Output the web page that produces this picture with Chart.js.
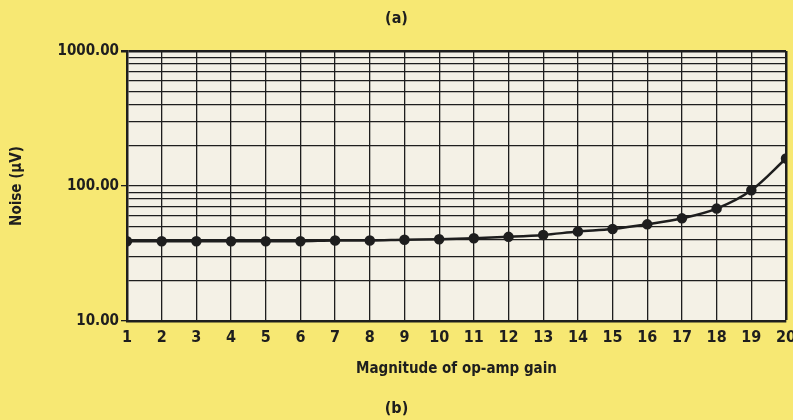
<!DOCTYPE html>
<html>
<head>
<meta charset="utf-8">
<script src="https://cdn.jsdelivr.net/npm/chart.js@4"></script>
<style>
  html, body { margin: 0; padding: 0; background: #f7e873; }
  canvas { display: block; }
</style>
</head>
<body>
<canvas id="myChart" width="793" height="420"></canvas>
<script>
// values
const gains = [1, 2, 3, 4, 5, 6, 7, 8, 9, 10, 11, 12, 13, 14, 15, 16, 17, 18, 19, 20];
const noise = [39, 39, 39, 39, 39, 39, 39.5, 39.5, 40, 40.3, 41, 42, 43.4, 46, 48, 52, 57.6, 68, 93, 160];

// log grid lines, only the decades get a label
const yGridValues = [10, 20, 30, 40, 50, 60, 70, 80, 90, 100, 200, 300, 400, 500, 600, 700, 800, 900, 1000];
const yLabelValues = [10, 100, 1000];

// no narrow font by name here, so ask for the condensed face of DejaVu
const FONT = "'DejaVu Sans Condensed', 'DejaVu Sans', sans-serif";
const WEIGHT = 'bold condensed';
const INK = '#1e1e1e';

// off-white plot paper
const paperPlugin = {
  id: 'paper',
  beforeDraw(chart) {
    const a = chart.chartArea;
    const ctx = chart.ctx;
    ctx.save();
    ctx.fillStyle = '#f4f1e6';
    ctx.fillRect(a.left, a.top, a.right - a.left, a.bottom - a.top);
    ctx.restore();
  }
};

const data = {
  datasets: [{
    label: 'Noise',
    data: gains.map((g, i) => ({ x: g, y: noise[i] })),
    borderColor: INK,
    backgroundColor: INK,
    borderWidth: 2.5,
    pointRadius: 4,
    pointHoverRadius: 4,
    cubicInterpolationMode: 'monotone'
  }]
};

const config = {
  type: 'line',
  data: data,
  options: {
    responsive: false,
    animation: false,
    layout: { padding: 0 },
    plugins: {
      legend: { display: false },
      tooltip: { enabled: false },
      title: {
        display: true,
        text: '(a)',
        color: INK,
        font: { family: FONT, size: 16, weight: WEIGHT },
        padding: { top: 9, bottom: 22.8 }
      },
      subtitle: {
        display: true,
        text: '(b)',
        position: 'bottom',
        color: INK,
        font: { family: FONT, size: 16, weight: WEIGHT },
        padding: { top: 4, bottom: 1.5 }
      }
    },
    scales: {
      x: {
        type: 'linear',
        min: 1,
        max: 20,
        afterFit(scale) {
          scale.height = 74.3;
          scale.paddingRight = 7;
        },
        border: { color: INK, width: 2.5 },
        grid: {
          color: INK,
          lineWidth: (c) => (c.tick && c.tick.value === 20 ? 2.5 : 1.3),
          drawTicks: false
        },
        ticks: {
          stepSize: 1,
          autoSkip: false,
          maxRotation: 0,
          padding: 7,
          color: INK,
          font: { family: FONT, size: 16, weight: WEIGHT }
        },
        title: {
          display: true,
          text: 'Magnitude of op-amp gain',
          color: INK,
          font: { family: FONT, size: 15, weight: WEIGHT },
          padding: { top: 0, bottom: 17 }
        }
      },
      y: {
        type: 'logarithmic',
        min: 10,
        max: 1000,
        afterFit(scale) { scale.width = 127; },
        afterBuildTicks(scale) {
          scale.ticks = yGridValues.map(v => ({ value: v, major: yLabelValues.includes(v) }));
        },
        border: { color: INK, width: 2.5 },
        grid: {
          color: INK,
          lineWidth: (c) => (c.tick && c.tick.value === 1000 ? 2.5 : 1.3),
          tickLength: 6,
          tickColor: (c) => (c.tick && yLabelValues.includes(c.tick.value) ? INK : 'rgba(0,0,0,0)')
        },
        ticks: {
          autoSkip: false,
          padding: 2,
          color: INK,
          font: { family: FONT, size: 15, weight: WEIGHT },
          callback: (v) => (yLabelValues.includes(v) ? v.toFixed(2) : '')
        },
        title: {
          display: true,
          text: 'Noise (\u03bcV)',
          color: INK,
          font: { family: FONT, size: 15, weight: WEIGHT },
          padding: { top: 8, bottom: 0 }
        }
      }
    }
  },
  plugins: [paperPlugin]
};

const myChart = new Chart(document.getElementById('myChart'), config);
</script>
</body>
</html>
